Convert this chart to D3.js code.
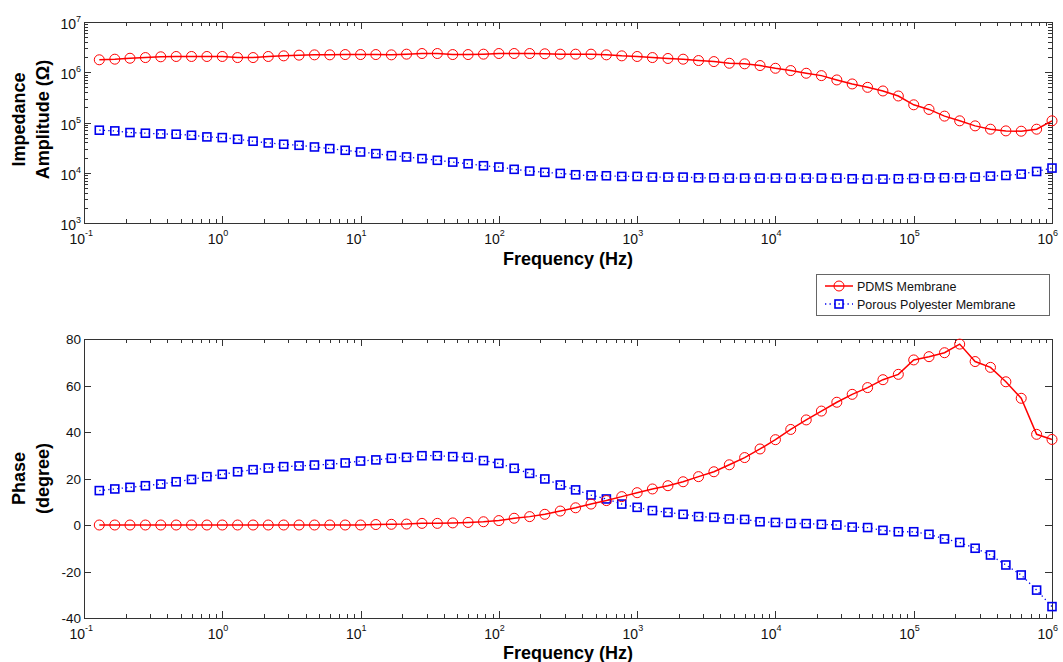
<!DOCTYPE html>
<html>
<head>
<meta charset="utf-8">
<script src="https://cdn.jsdelivr.net/npm/d3@7"></script>
<style>
  body { margin: 0; background: #fff; }
  svg { font-family: "Liberation Sans", Arial, sans-serif; }
</style>
</head>
<body>
<script>
// frequency points (Hz), 9 per decade
const freq = [0.129, 0.167, 0.215, 0.278, 0.359, 0.464, 0.599, 0.774,
  1, 1.29, 1.67, 2.15, 2.78, 3.59, 4.64, 5.99, 7.74,
  10, 12.9, 16.7, 21.5, 27.8, 35.9, 46.4, 59.9, 77.4,
  100, 129, 167, 215, 278, 359, 464, 599, 774,
  1000, 1290, 1670, 2150, 2780, 3590, 4640, 5990, 7740,
  1e4, 12900, 16700, 21500, 27800, 35900, 46400, 59900, 77400,
  1e5, 129000, 167000, 215000, 278000, 359000, 464000, 599000, 774000, 1e6];

// impedance amplitude (ohm)
const pdmsZ = [1.77e6, 1.82e6, 1.90e6, 1.96e6, 2.03e6, 2.06e6, 2.06e6, 2.06e6, 2.06e6, 1.96e6,
  1.96e6, 2.06e6, 2.12e6, 2.19e6, 2.22e6, 2.22e6, 2.25e6, 2.25e6, 2.25e6, 2.22e6,
  2.29e6, 2.36e6, 2.36e6, 2.25e6, 2.25e6, 2.29e6, 2.36e6, 2.36e6, 2.36e6, 2.33e6,
  2.29e6, 2.29e6, 2.29e6, 2.22e6, 2.12e6, 2.06e6, 1.96e6, 1.88e6, 1.82e6, 1.71e6,
  1.63e6, 1.51e6, 1.47e6, 1.36e6, 1.20e6, 1.08e6, 9.55e5, 8.57e5, 7.03e5, 5.85e5,
  5.01e5, 4.24e5, 3.37e5, 2.25e5, 1.82e5, 1.34e5, 1.08e5, 8.57e4, 7.36e4, 6.81e4,
  6.71e4, 7.36e4, 1.08e5];
const porousZ = [7.03e4, 6.81e4, 6.31e4, 6.12e4, 5.93e4, 5.85e4, 5.58e4, 5.17e4, 5.01e4, 4.64e4,
  4.24e4, 3.92e4, 3.69e4, 3.52e4, 3.26e4, 3.02e4, 2.80e4, 2.59e4, 2.40e4, 2.19e4,
  2.06e4, 1.91e4, 1.77e4, 1.63e4, 1.51e4, 1.38e4, 1.30e4, 1.17e4, 1.08e4, 1.02e4,
  9.7e3, 9.12e3, 8.71e3, 8.71e3, 8.45e3, 8.45e3, 8.19e3, 8.19e3, 8.19e3, 7.94e3,
  7.94e3, 7.82e3, 7.82e3, 7.82e3, 7.82e3, 7.82e3, 7.82e3, 7.82e3, 7.82e3, 7.59e3,
  7.47e3, 7.47e3, 7.59e3, 7.70e3, 7.94e3, 7.94e3, 7.94e3, 8.19e3, 8.58e3, 8.84e3,
  9.40e3, 1.06e4, 1.24e4];

// phase (degree)
const pdmsPhase = [0, 0, 0, 0, 0, 0, 0, 0, 0, 0,
  0, 0, 0, 0, 0, 0, 0, 0, 0.2, 0.3,
  0.4, 0.7, 0.7, 0.9, 1.1, 1.4, 1.9, 2.9, 3.6, 4.6,
  6.0, 7.4, 9.0, 10.5, 12.2, 13.9, 15.5, 16.9, 18.6, 20.8,
  22.9, 25.9, 29.0, 32.7, 36.7, 41.1, 45.2, 49.0, 52.8, 56.2,
  59.1, 62.5, 64.8, 71.0, 72.4, 74.1, 77.8, 70.3, 67.8, 61.6,
  54.5, 39.0, 36.8];
const porousPhase = [14.8, 15.5, 16.2, 16.9, 17.6, 18.6, 19.6, 20.8, 21.8, 22.9,
  23.8, 24.5, 25.1, 25.4, 25.8, 26.1, 26.7, 27.5, 28.0, 28.7,
  29.1, 29.8, 29.8, 29.4, 29.1, 27.7, 26.5, 24.4, 22.2, 19.8,
  17.2, 15.1, 12.9, 11.2, 9.0, 7.6, 6.2, 5.4, 4.6, 3.6,
  3.3, 2.6, 2.4, 1.4, 1.1, 0.7, 0.6, 0.3, 0, -0.9,
  -1.1, -2.3, -2.9, -2.9, -4.0, -6.0, -7.5, -10.0, -12.9, -17.2,
  -21.5, -28.0, -35.1];

const seriesNames = ["PDMS Membrane", "Porous Polyester Membrane"];
const phaseTicks = [-40, -20, 0, 20, 40, 60, 80];

const W = 1063, H = 662;
const red = "#ff0000", blue = "#0000ee", axisCol = "#333";

const svg = d3.select("body").append("svg").attr("width", W).attr("height", H);

const x = d3.scaleLog().domain([0.1, 1e6]).range([84, 1052]);

function decades(lo, hi) {
  const out = [];
  for (let e = lo; e <= hi; e++) out.push(e);
  return out;
}
function minors(lo, hi) {
  const out = [];
  for (let e = lo; e < hi; e++) for (let m = 2; m <= 9; m++) out.push(m * Math.pow(10, e));
  return out;
}

function drawPanel(top, bottom, y, opts) {
  const g = svg.append("g");
  const [x0, x1] = x.range();

  // x ticks (bottom and top, inside)
  const xDec = decades(-1, 6);
  const xMin = minors(-1, 6);
  const tickG = g.append("g").attr("stroke", axisCol).attr("stroke-width", 1);
  xDec.forEach(e => {
    const xx = Math.round(x(Math.pow(10, e))) + 0.5;
    tickG.append("line").attr("x1", xx).attr("x2", xx).attr("y1", bottom).attr("y2", bottom - 7);
    tickG.append("line").attr("x1", xx).attr("x2", xx).attr("y1", top).attr("y2", top + 7);
  });
  xMin.forEach(v => {
    const xx = Math.round(x(v)) + 0.5;
    tickG.append("line").attr("x1", xx).attr("x2", xx).attr("y1", bottom).attr("y2", bottom - 4);
    tickG.append("line").attr("x1", xx).attr("x2", xx).attr("y1", top).attr("y2", top + 4);
  });

  // x tick labels: 10^n
  xDec.forEach(e => {
    const xx = x(Math.pow(10, e));
    g.append("text").attr("x", xx + 1).attr("y", bottom + 20.5)
      .attr("font-size", 14).attr("fill", "#111").attr("text-anchor", "end").text("10");
    g.append("text").attr("x", xx + 1).attr("y", bottom + 13)
      .attr("font-size", 9).attr("fill", "#111").text(e);
  });

  // y ticks
  if (opts.log) {
    const yDec = decades(opts.lo, opts.hi);
    const yMin = minors(opts.lo, opts.hi);
    yDec.forEach(e => {
      const yy = Math.round(y(Math.pow(10, e))) + 0.5;
      tickG.append("line").attr("x1", x0).attr("x2", x0 + 7).attr("y1", yy).attr("y2", yy);
      tickG.append("line").attr("x1", x1).attr("x2", x1 - 7).attr("y1", yy).attr("y2", yy);
      g.append("text").attr("x", x0 - 8).attr("y", yy + 6)
        .attr("font-size", 14).attr("fill", "#111").attr("text-anchor", "end").text("10");
      g.append("text").attr("x", x0 - 8).attr("y", yy - 1)
        .attr("font-size", 9).attr("fill", "#111").text(e);
    });
    yMin.forEach(v => {
      const yy = Math.round(y(v)) + 0.5;
      tickG.append("line").attr("x1", x0).attr("x2", x0 + 4).attr("y1", yy).attr("y2", yy);
      tickG.append("line").attr("x1", x1).attr("x2", x1 - 4).attr("y1", yy).attr("y2", yy);
    });
  } else {
    opts.ticks.forEach(v => {
      const yy = Math.round(y(v)) + 0.5;
      tickG.append("line").attr("x1", x0).attr("x2", x0 + 7).attr("y1", yy).attr("y2", yy);
      tickG.append("line").attr("x1", x1).attr("x2", x1 - 7).attr("y1", yy).attr("y2", yy);
      g.append("text").attr("x", x0 - 3).attr("y", yy + 4)
        .attr("font-size", 13.5).attr("fill", "#111").attr("text-anchor", "end").text(v);
    });
  }

  // frame
  g.append("rect").attr("x", x0 + 0.5).attr("y", top + 0.5)
    .attr("width", x1 - x0).attr("height", bottom - top)
    .attr("fill", "none").attr("stroke", axisCol).attr("stroke-width", 1);

  // series
  const line = d3.line().x(d => x(d[0])).y(d => y(d[1]));
  const redPts = d3.zip(freq, opts.a);
  const bluePts = d3.zip(freq, opts.b);

  g.append("path").datum(bluePts).attr("d", line).attr("fill", "none")
    .attr("stroke", blue).attr("stroke-width", 1.3).attr("stroke-dasharray", "1.3,3.2");
  g.append("g").selectAll("rect").data(bluePts).join("rect")
    .attr("x", d => x(d[0]) - 4).attr("y", d => y(d[1]) - 4)
    .attr("width", 8).attr("height", 8)
    .attr("fill", "none").attr("stroke", blue).attr("stroke-width", 1.6);

  g.append("path").datum(redPts).attr("d", line).attr("fill", "none")
    .attr("stroke", red).attr("stroke-width", 1.5);
  g.append("g").selectAll("circle").data(redPts).join("circle")
    .attr("cx", d => x(d[0])).attr("cy", d => y(d[1])).attr("r", 5)
    .attr("fill", "none").attr("stroke", red).attr("stroke-width", 1);

  // axis titles
  g.append("text").attr("x", (x0 + x1) / 2).attr("y", opts.xTitleY)
    .attr("text-anchor", "middle").attr("font-size", 18).attr("font-weight", "bold")
    .text("Frequency (Hz)");
  const cy = (top + bottom) / 2 + opts.yShift;
  opts.yTitle.forEach((s, i) => {
    g.append("text").attr("transform", `translate(${25 + i * 24},${cy}) rotate(-90)`)
      .attr("text-anchor", "middle").attr("font-size", 18).attr("font-weight", "bold")
      .text(s);
  });
}

const yZ = d3.scaleLog().domain([1e3, 1e7]).range([223, 22]);
drawPanel(22, 223, yZ, {
  log: true, lo: 3, hi: 7, a: pdmsZ, b: porousZ,
  xTitleY: 265, yTitle: ["Impedance", "Amplitude (\u03A9)"], yShift: -3
});

const yP = d3.scaleLinear().domain([-40, 80]).range([618, 339]);
drawPanel(339, 618, yP, {
  log: false, ticks: phaseTicks, a: pdmsPhase, b: porousPhase,
  xTitleY: 659, yTitle: ["Phase", "(degree)"], yShift: 0
});

// legend
const leg = svg.append("g").attr("transform", "translate(816,274)");
leg.append("rect").attr("x", 0.5).attr("y", 0.5).attr("width", 233).attr("height", 41)
  .attr("fill", "#fff").attr("stroke", "#666").attr("stroke-width", 1);
seriesNames.forEach((name, i) => {
  const yy = 12 + i * 18;
  const isRed = i === 0;
  leg.append("line").attr("x1", 9).attr("x2", 37).attr("y1", yy).attr("y2", yy)
    .attr("stroke", isRed ? red : blue).attr("stroke-width", isRed ? 1.5 : 1.3)
    .attr("stroke-dasharray", isRed ? null : "1.3,3.2");
  if (isRed) {
    leg.append("circle").attr("cx", 23).attr("cy", yy).attr("r", 5)
      .attr("fill", "none").attr("stroke", red);
  } else {
    leg.append("rect").attr("x", 19).attr("y", yy - 4).attr("width", 8).attr("height", 8)
      .attr("fill", "none").attr("stroke", blue).attr("stroke-width", 1.6);
  }
  leg.append("text").attr("x", 41).attr("y", yy + 4.5).attr("font-size", 12.5)
    .attr("fill", "#111").text(name);
});
</script>
</body>
</html>
